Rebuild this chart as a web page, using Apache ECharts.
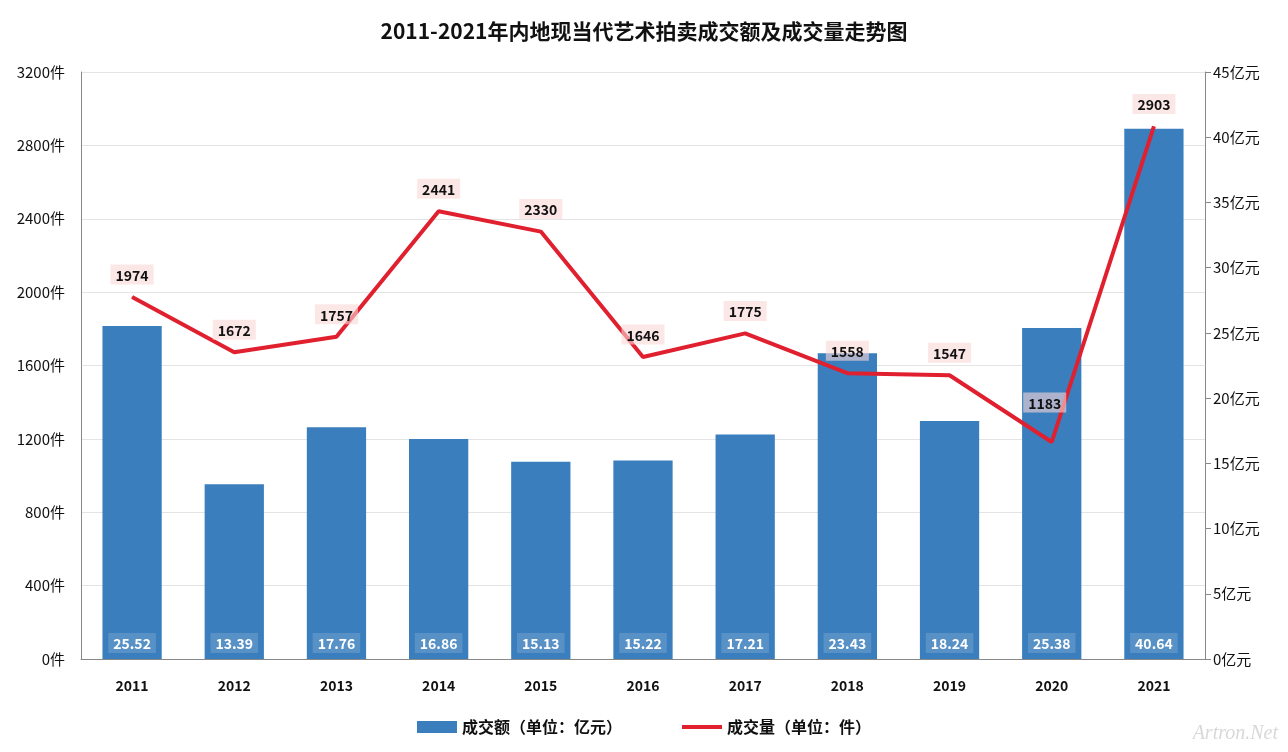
<!DOCTYPE html>
<html><head><meta charset="utf-8">
<script src="https://cdn.jsdelivr.net/npm/echarts@6/dist/echarts.min.js"></script>
<style>html,body{margin:0;padding:0;background:#fff}#c{width:1288px;height:752px}</style>
</head><body><div id="c"></div>
<script>
const years = ['2011','2012','2013','2014','2015','2016','2017','2018','2019','2020','2021'];
const amount = [25.52,13.39,17.76,16.86,15.13,15.22,17.21,23.43,18.24,25.38,40.64];
const volume = [1974,1672,1757,2441,2330,1646,1775,1558,1547,1183,2903];
const titleText = '2011-2021年内地现当代艺术拍卖成交额及成交量走势图';
const amountName = '成交额（单位：亿元）';
const volumeName = '成交量（单位：件）';

const font = '"Microsoft YaHei","Noto Sans CJK SC","Noto Sans",sans-serif';
const chart = echarts.init(document.getElementById('c'), null, {renderer:'canvas'});
chart.setOption({
  animation:false,
  textStyle:{fontFamily:font},
  title:{text:titleText,left:'center',top:16,textStyle:{fontSize:21,fontWeight:'bold',color:'#111',fontFamily:font}},
  grid:{left:81,right:83,top:72,bottom:93},
  legend:{bottom:12,left:'center',itemGap:60,itemWidth:40,itemHeight:12,textStyle:{fontSize:16,color:'#111',fontWeight:'bold'},
    data:[{name:amountName,icon:'rect'},{name:volumeName,icon:'path://M0,0L40,0L40,4L0,4Z'}]},
  xAxis:{type:'category',data:years,axisTick:{show:false},
    axisLine:{lineStyle:{color:'#888'}},
    axisLabel:{fontSize:14,fontWeight:'bold',color:'#111',margin:20}},
  yAxis:[
    {type:'value',min:0,max:3200,interval:400,position:'left',
     axisLine:{show:true,lineStyle:{color:'#888'}},axisTick:{show:false},
     axisLabel:{formatter:v=>v+'件',fontSize:15,color:'#111',margin:16},
     splitLine:{lineStyle:{color:'#e4e4e4'}}},
    {type:'value',min:0,max:45,interval:5,position:'right',
     axisLine:{show:true,lineStyle:{color:'#888'}},axisTick:{show:true,length:6,lineStyle:{color:'#888'}},
     axisLabel:{formatter:v=>v+'亿元',fontSize:15,color:'#111',margin:8},
     splitLine:{show:false}}
  ],
  series:[
    {name:amountName,type:'bar',yAxisIndex:1,data:amount,barWidth:'58%',
     itemStyle:{color:'#3a7ebd'},
     label:{show:true,position:'insideBottom',distance:6,color:'#fff',fontWeight:'bold',fontSize:14,
       backgroundColor:'rgba(255,255,255,0.15)',padding:[4,5,2,5]}},
    {name:volumeName,type:'line',yAxisIndex:0,data:volume.map((v,i)=> i===9 ? {value:v,label:{offset:[-7,-17]}} : v),
     symbol:'circle',symbolSize:1,showSymbol:true,lineStyle:{color:'#e0202f',width:4},itemStyle:{color:'#e0202f'},
     label:{show:true,position:'top',distance:12,color:'#111',fontWeight:'bold',fontSize:14,
       backgroundColor:'rgba(250,215,215,0.6)',padding:[4,5,2,5]}}
  ],
  graphic:[{type:'text',right:10,bottom:8,style:{text:'Artron.Net',fontSize:20,fontStyle:'italic',fill:'rgba(200,200,200,0.7)',fontFamily:'Liberation Serif'}}]
});
</script></body></html>
